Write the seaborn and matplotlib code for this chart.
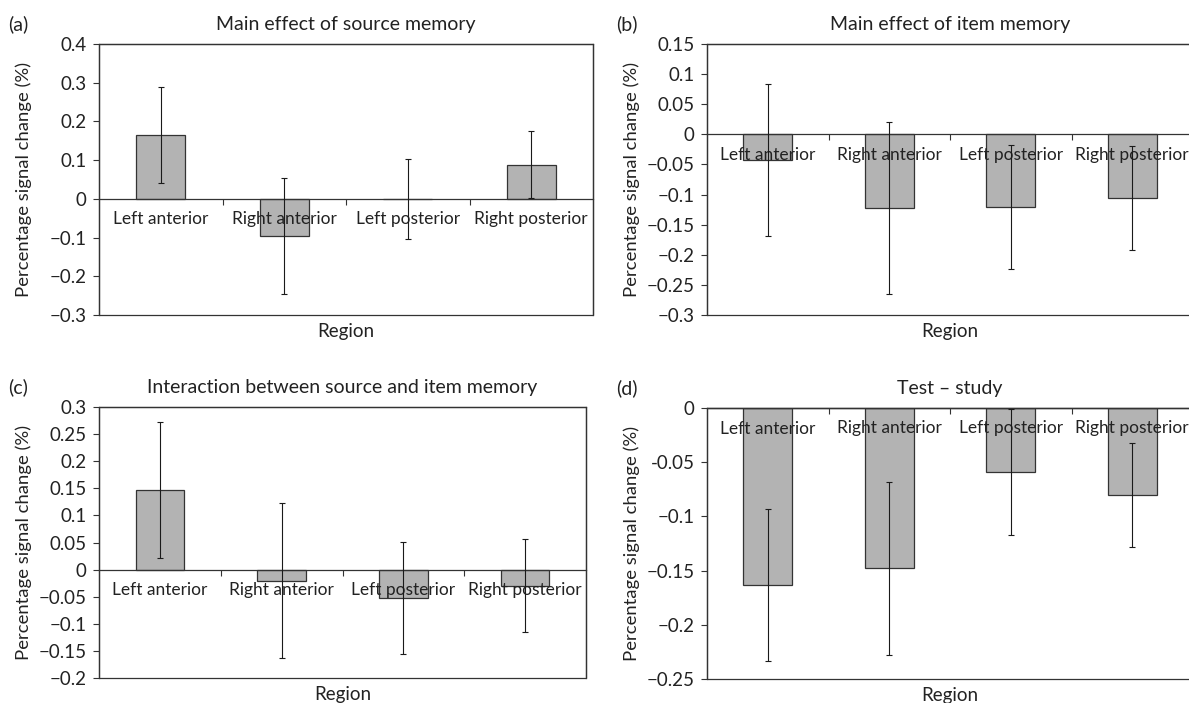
import matplotlib
matplotlib.use('Agg')
import matplotlib.pyplot as plt
from matplotlib.patches import Rectangle
import seaborn as sns

# Datos
regions = ['Left anterior', 'Right anterior', 'Left posterior', 'Right posterior']

source_mean = [0.165, -0.095, 0.0, 0.088]
source_err = [0.125, 0.150, 0.103, 0.086]

item_mean = [-0.043, -0.122, -0.120, -0.106]
item_err = [0.126, 0.143, 0.103, 0.086]

inter_mean = [0.147, -0.021, -0.052, -0.030]
inter_err = [0.126, 0.143, 0.103, 0.086]

test_mean = [-0.163, -0.148, -0.059, -0.080]
test_err = [0.070, 0.080, 0.058, 0.048]

ticks_a = [-0.3, -0.2, -0.1, 0, 0.1, 0.2, 0.3, 0.4]
labels_a = ['\u22120.3', '\u22120.2', '\u22120.1', '0', '0.1', '0.2', '0.3', '0.4']
ticks_b = [-0.3, -0.25, -0.2, -0.15, -0.1, -0.05, 0, 0.05, 0.1, 0.15]
labels_b = ['\u22120.3', '\u22120.25', '\u22120.2', '\u22120.15', '\u22120.1', '\u22120.05',
            '0', '0.05', '0.1', '0.15']
ticks_c = [-0.2, -0.15, -0.1, -0.05, 0, 0.05, 0.1, 0.15, 0.2, 0.25, 0.3]
labels_c = ['\u22120.2', '\u22120.15', '\u22120.1', '\u22120.05', '0', '0.05', '0.1',
            '0.15', '0.2', '0.25', '0.3']
ticks_d = [-0.25, -0.2, -0.15, -0.1, -0.05, 0]
labels_d = ['\u22120.25', '\u22120.2', '\u22120.15', '\u22120.1', '-0.05', '0']

BAR = '#b3b3b3'
EDGE = '#333333'
TXT = '#222222'
W, H = 1189, 703

sns.set_theme(style='white')
plt.rcParams['font.family'] = ['Lato', 'DejaVu Sans']

fig = plt.figure(figsize=(W / 100, H / 100), dpi=100)

# (etiqueta, titulo, medias, errores, ticks, etiquetas, rect en pixeles)
paneles = [
    ('(a)', 'Main effect of source memory', source_mean, source_err, ticks_a, labels_a,
     (99, 44, 593, 315)),
    ('(b)', 'Main effect of item memory', item_mean, item_err, ticks_b, labels_b,
     (707, 44, 1193, 315)),
    ('(c)', 'Interaction between source and item memory', inter_mean, inter_err, ticks_c, labels_c,
     (99, 407, 586, 678)),
    ('(d)', 'Test \u2013 study', test_mean, test_err, ticks_d, labels_d,
     (707, 408, 1193, 679)),
]

for letra, titulo, medias, errores, ticks, etiquetas, (x0, y0, x1, y1) in paneles:
    ax = fig.add_axes([x0 / W, 1 - y1 / H, (x1 - x0) / W, (y1 - y0) / H])

    sns.barplot(x=regions, y=medias, order=regions, color=BAR, edgecolor=EDGE,
                linewidth=0.9, width=0.4, saturation=1, errorbar=None, ax=ax)

    centros = [p.get_x() + p.get_width() / 2 for p in ax.patches]
    ax.errorbar(centros, medias, yerr=errores, fmt='none', ecolor='#1a1a1a',
                elinewidth=0.8, capsize=2, capthick=0.8, zorder=4)

    ax.set_xlim(-0.5, 3.5)
    ax.set_ylim(ticks[0], ticks[-1])
    ax.set_yticks(ticks)
    ax.set_yticklabels(etiquetas)
    ax.set_xlabel('')
    ax.set_ylabel('')
    ax.set_axisbelow(False)  # etiquetas de region sobre las barras

    # eje horizontal en cero, estilo Excel
    ax.spines['bottom'].set_position(('data', 0))
    for s in ax.spines.values():
        s.set_color(EDGE)
        s.set_linewidth(0.9)
    ax.add_patch(Rectangle((0, 0), 1, 1, transform=ax.transAxes, fill=False,
                           edgecolor=EDGE, lw=0.9, clip_on=False, zorder=3))

    ax.set_xticks([0.5, 1.5, 2.5], labels=['', '', ''])
    ax.set_xticks([0, 1, 2, 3], labels=regions, minor=True)
    ax.tick_params(axis='x', which='major', bottom=True, direction='out', length=4,
                   width=0.8, color=EDGE)
    ax.tick_params(axis='x', which='minor', bottom=True, length=0, pad=9,
                   labelsize=12.5, labelcolor=TXT)
    ax.tick_params(axis='y', left=True, direction='out', length=4, width=0.8,
                   color=EDGE, pad=5, labelsize=13.5, labelcolor=TXT)

    ax.set_title(titulo, pad=10, fontsize=14, color=TXT)
    ax.annotate('Region', xy=(0.5, 0), xycoords='axes fraction', xytext=(0, -6),
                textcoords='offset points', ha='center', va='top', fontsize=13.5,
                color=TXT)

    fig.text((x0 - 91) / W, 1 - (y0 - 14) / H, letra, ha='left', va='baseline',
             fontsize=14, color=TXT)
    fig.text((x0 - 75) / W, 1 - ((y0 + y1) / 2) / H, 'Percentage signal change (%)',
             rotation=90, ha='center', va='center', fontsize=13.3, color=TXT)

plt.savefig('out.png', dpi=100)
plt.close()
